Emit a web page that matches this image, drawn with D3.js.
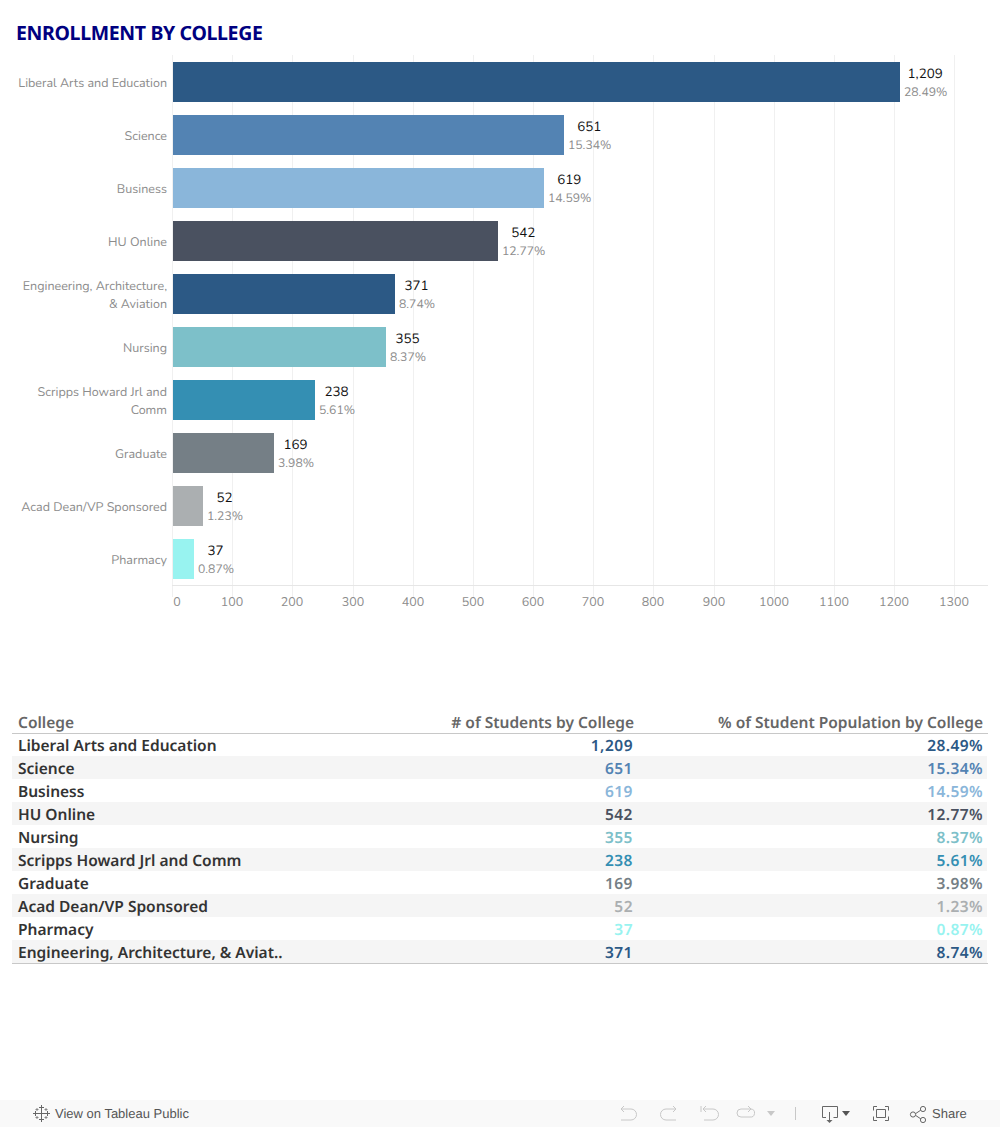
<!DOCTYPE html>
<html><head><meta charset="utf-8">
<script src="https://cdn.jsdelivr.net/npm/d3@7"></script>
<style>
html,body{margin:0;padding:0;background:#fff;overflow:hidden}
svg{display:block}
text{text-rendering:geometricPrecision}
</style></head><body>
<svg id="c" width="1000" height="1127"></svg>
<script>
const colleges=["Liberal Arts and Education","Science","Business","HU Online","Engineering, Architecture, & Aviation","Nursing","Scripps Howard Jrl and Comm","Graduate","Acad Dean/VP Sponsored","Pharmacy"];
const axisLabels=[["Liberal Arts and Education"],["Science"],["Business"],["HU Online"],["Engineering, Architecture,","& Aviation"],["Nursing"],["Scripps Howard Jrl and","Comm"],["Graduate"],["Acad Dean/VP Sponsored"],["Pharmacy"]];
const students=[1209,651,619,542,371,355,238,169,52,37];
const percents=[28.49,15.34,14.59,12.77,8.74,8.37,5.61,3.98,1.23,0.87];
const barColors=["#2c5985","#5383b3","#8ab6da","#4a5160","#2c5985","#7dc0c9","#348fb3","#757f86","#abafb1","#98f3f0"];
const xTicks=[0,100,200,300,400,500,600,700,800,900,1000,1100,1200,1300];
const tableOrder=["Liberal Arts and Education","Science","Business","HU Online","Nursing","Scripps Howard Jrl and Comm","Graduate","Acad Dean/VP Sponsored","Pharmacy","Engineering, Architecture, & Aviation"];
const tableNames=["Liberal Arts and Education","Science","Business","HU Online","Nursing","Scripps Howard Jrl and Comm","Graduate","Acad Dean/VP Sponsored","Pharmacy","Engineering, Architecture, & Aviat.."];
const tableHeaders=["College","# of Students by College","% of Student Population by College"];

const svg=d3.select("#c");
const LABEL="Nunito, Lato, 'Noto Sans', sans-serif";
const TABLE="'Noto Sans', 'Open Sans', sans-serif";

svg.append("text").attr("x",16).attr("y",40).attr("fill","#000080")
  .attr("font-family",TABLE).attr("font-weight",700).attr("font-size",19.5).attr("letter-spacing",-0.35).text("ENROLLMENT BY COLLEGE");

const x=d3.scaleLinear().domain([0,1300]).rangeRound([172,954.3]);
const y=d3.scaleBand().domain(colleges).range([55.5,585.5]).paddingInner(13/53).paddingOuter(6.5/53);

const grid=svg.append("g");
grid.selectAll("line").data(xTicks).join("line")
  .attr("x1",d=>x(d)+.5).attr("x2",d=>x(d)+.5).attr("y1",55).attr("y2",597)
  .attr("stroke","#f0f0f0").attr("stroke-width",1);
svg.append("line").attr("x1",172).attr("x2",988).attr("y1",585.5).attr("y2",585.5).attr("stroke","#e6e6e6");

svg.append("g").selectAll("rect").data(colleges).join("rect")
  .attr("x",x(0)+1).attr("y",d=>y(d)).attr("width",(d,i)=>x(students[i])-x(0)-1).attr("height",y.bandwidth())
  .attr("fill",(d,i)=>barColors[i]);

const tickG=svg.append("g").attr("font-family",LABEL).attr("font-size",12.5).attr("fill","#8c8c8c");
tickG.selectAll("text").data(xTicks).join("text")
  .attr("x",d=>d===0?x(0)+5:x(d)).attr("y",606).attr("text-anchor","middle").text(d=>d);

const catG=svg.append("g").attr("font-family",LABEL).attr("font-size",12.5).attr("fill","#8c8c8c").attr("text-anchor","end");
colleges.forEach((c,i)=>{
  const cy=y(c)+y.bandwidth()/2, ls=axisLabels[i];
  ls.forEach((l,k)=>catG.append("text").attr("x",167).attr("y",cy+4.5+(k-(ls.length-1)/2)*18).text(l));
});

const valG=svg.append("g").attr("font-family",LABEL).attr("text-anchor","middle");
colleges.forEach((c,i)=>{
  const left=x(students[i])+4, t=y(c);
  const pct=valG.append("text").attr("x",left).attr("y",t+34).attr("text-anchor","start").attr("font-size",12.2).attr("fill","#8c8c8c").text(percents[i].toFixed(2)+"%");
  const w=pct.node().getComputedTextLength();
  valG.append("text").attr("x",left+w/2-0.5).attr("y",t+16).attr("font-size",13.4).attr("fill","#111").text(d3.format(",")(students[i]));
});

// table
const rowY=d3.scaleBand().domain(d3.range(10)).range([733,963]);
const tbl=svg.append("g").attr("font-family",TABLE);
tbl.selectAll("rect").data(d3.range(1,10,2)).join("rect")
  .attr("x",12).attr("width",975).attr("y",d=>rowY(d)).attr("height",rowY.bandwidth()).attr("fill","#f5f5f5");
tbl.append("line").attr("x1",12).attr("x2",988).attr("y1",733.5).attr("y2",733.5).attr("stroke","#c8c8c8");
tbl.append("line").attr("x1",12).attr("x2",988).attr("y1",963.5).attr("y2",963.5).attr("stroke","#c8c8c8");
const hx=[18,634,983], anchors=["start","end","end"];
tableHeaders.forEach((h,i)=>tbl.append("text").attr("x",hx[i]).attr("y",728).attr("text-anchor",anchors[i])
  .attr("font-size",15.5).attr("font-weight",600).attr("fill","#666").text(h));
tableOrder.forEach((c,r)=>{
  const i=colleges.indexOf(c), by=rowY(r)+18;
  tbl.append("text").attr("x",18).attr("y",by).attr("font-size",15.5).attr("font-weight",600).attr("fill","#333").text(tableNames[r]);
  tbl.append("text").attr("x",633).attr("y",by).attr("text-anchor","end").attr("font-size",15.5).attr("font-weight",600).attr("letter-spacing",0.5).attr("fill",barColors[i]).text(d3.format(",")(students[i]));
  tbl.append("text").attr("x",983).attr("y",by).attr("text-anchor","end").attr("font-size",15.5).attr("font-weight",600).attr("letter-spacing",0.4).attr("fill",barColors[i]).text(percents[i].toFixed(2)+"%");
});

// footer toolbar
const ft=svg.append("g");
ft.append("rect").attr("x",0).attr("y",1100).attr("width",1000).attr("height",27).attr("fill","#f9f9f9");
ft.append("text").attr("x",55).attr("y",1118).attr("font-family","'Liberation Sans',Arial,sans-serif").attr("font-size",13).attr("fill","#555").text("View on Tableau Public");
ft.append("text").attr("x",932).attr("y",1118).attr("font-family","'Liberation Sans',Arial,sans-serif").attr("font-size",13).attr("fill","#555").text("Share");
const ic=(d,s,w)=>ft.append("path").attr("d",d).attr("fill","none").attr("stroke",s).attr("stroke-width",w||1);
// tableau logo
ic("M41.5 1109v9M37 1113.5h9M41.5 1105v5M39 1107.5h5M41.5 1117v5M39 1119.5h5M35.5 1111v5M33 1113.5h5M47.5 1111v5M45 1113.5h5","#666");
ic("M37 1108v3M35.5 1109.5h3M46 1108v3M44.5 1109.5h3M37 1116v3M35.5 1117.5h3M46 1116v3M44.5 1117.5h3","#888");
// undo/redo
ic("M621 1109h10a5.5 5.5 0 0 1 0 11h-10M621 1109l3-3M621 1109l3 3","#c8c8c8");
ic("M676 1109h-10a5.5 5.5 0 0 0 0 11h10M676 1109l-3-3M676 1109l-3 3","#c8c8c8");
ic("M701 1106v6M703 1109h10a5.5 5.5 0 0 1 0 11h-9M703 1109l3-3M703 1109l3 3","#c8c8c8");
ic("M751 1109h-10a4 4 0 0 0 0 8h9a4 4 0 0 0 1-8M751 1109l-3-3M751 1109l-3 3","#c8c8c8");
ft.append("path").attr("d","M767 1111h8l-4 5z").attr("fill","#c8c8c8");
ic("M795.5 1107v13","#c8c8c8");
// download
ic("M826 1117.5h-3.5v-11h15v11h-4M829.5 1112v9","#666");
ft.append("path").attr("d","M826.5 1120h6l-3 3z").attr("fill","#666");
ft.append("path").attr("d","M842 1111h8l-4 5z").attr("fill","#555");
// fullscreen
ic("M877 1106.5h-3.5v4M885 1106.5h3.5v4M877 1120.5h-3.5v-4M885 1120.5h3.5v-4","#666");
ic("M876.5 1109.5h9v8h-9z","#666");
// share
ic("M915 1114l6-4M915 1115l6 4","#666");
ft.selectAll("circle.s").data([[913,1114.5],[923,1109],[923,1120]]).join("circle").attr("cx",d=>d[0]).attr("cy",d=>d[1]).attr("r",2.6).attr("fill","#f9f9f9").attr("stroke","#666");
</script>
</body></html>
